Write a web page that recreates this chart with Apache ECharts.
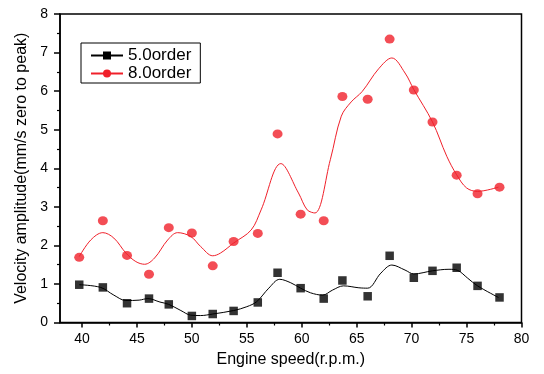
<!DOCTYPE html>
<html>
<head>
<meta charset="utf-8">
<script src="https://cdn.jsdelivr.net/npm/echarts@6/dist/echarts.min.js"></script>
<style>html,body{margin:0;padding:0;background:#fff}#c{width:544px;height:374px}</style>
</head>
<body>
<div id="c"></div>
<script>
// Measured points
const speed = [39.75, 41.9, 44.1, 46.1, 47.9, 50.0, 51.9, 53.8, 56.0, 57.8, 59.9, 62.0, 63.7, 66.0, 68.0, 70.2, 71.9, 74.1, 76.0, 78.0];
const order5 = [0.98, 0.91, 0.50, 0.62, 0.47, 0.17, 0.22, 0.30, 0.52, 1.29, 0.89, 0.62, 1.09, 0.68, 1.73, 1.16, 1.34, 1.42, 0.95, 0.65];
const order8 = [1.69, 2.64, 1.74, 1.25, 2.46, 2.32, 1.47, 2.10, 2.31, 4.89, 2.81, 2.64, 5.86, 5.79, 7.35, 6.03, 5.20, 3.82, 3.34, 3.51];

// Smoothed curves
const fit5X = [39.75, 41.7, 42.9, 44.0, 45.2, 46.0, 47.1, 47.9, 49.0, 49.9, 50.8, 51.9, 53.8, 55.0, 55.9, 57.0, 58.0, 59.0, 59.9, 60.8, 61.9, 62.8, 63.8, 65.2, 66.0, 67.2, 68.2, 69.4, 70.2, 71.9, 73.4, 74.2, 75.1, 76.0, 77.9];
const fit5Y = [0.98, 0.91, 0.71, 0.57, 0.58, 0.62, 0.53, 0.47, 0.31, 0.19, 0.18, 0.22, 0.31, 0.41, 0.54, 0.89, 1.12, 1.03, 0.89, 0.77, 0.71, 0.84, 0.95, 0.90, 0.89, 1.28, 1.49, 1.36, 1.26, 1.34, 1.38, 1.35, 1.15, 0.95, 0.65];
const fit8X = [39.75, 40.8, 41.9, 42.9, 44.0, 44.9, 45.7, 46.6, 47.8, 48.7, 49.9, 50.8, 51.9, 52.6, 53.8, 55.4, 56.3, 58.1, 59.7, 60.5, 61.2, 62.6, 63.6, 64.5, 65.5, 67.0, 68.2, 69.4, 70.2, 71.9, 73.2, 74.1, 75.0, 76.0, 77.9];
const fit8Y = [1.71, 2.14, 2.33, 2.19, 1.80, 1.58, 1.51, 1.67, 2.14, 2.33, 2.23, 1.97, 1.73, 1.80, 2.06, 2.40, 2.92, 4.12, 3.36, 2.92, 2.84, 4.22, 5.35, 5.72, 5.99, 6.58, 6.86, 6.47, 6.04, 5.20, 4.31, 3.83, 3.49, 3.40, 3.51];

const majorTicksX = [40, 45, 50, 55, 60, 65, 70, 75, 80];
const minorTicksX = [42.5, 47.5, 52.5, 57.5, 62.5, 67.5, 72.5, 77.5];

const zip = (xs, ys) => xs.map((x, i) => [x, ys[i]]);
const RED = '#f0202a';
const FONT = 'Liberation Sans, Arial, sans-serif';

const chart = echarts.init(document.getElementById('c'), null, {renderer: 'canvas'});
chart.setOption({
  animation: false,
  backgroundColor: '#fff',
  grid: {left: 60, right: 22.5, top: 14, bottom: 51.5, show: true, borderColor: '#000', borderWidth: 1.5, backgroundColor: 'transparent'},
  legend: {
    orient: 'vertical', left: 81, top: 43,
    padding: [4, 9, 1, 9], itemGap: 1,
    itemWidth: 32, itemHeight: 10, itemTextGap: 10,
    borderColor: '#000', borderWidth: 1, borderRadius: 0,
    textStyle: {fontSize: 17, fontFamily: FONT, color: '#000'},
    data: ['5.0order', '8.0order']
  },
  xAxis: [{
    type: 'value', min: 38, max: 80,
    name: 'Engine speed(r.p.m.)', nameLocation: 'middle', nameGap: 26,
    nameTextStyle: {fontSize: 16, fontFamily: FONT, color: '#000'},
    axisLine: {lineStyle: {color: '#000', width: 1.5}},
    axisTick: {show: true, length: 5, lineStyle: {color: '#000', width: 1.5}, customValues: majorTicksX},
    axisLabel: {fontSize: 14, fontFamily: FONT, color: '#000', margin: 10, customValues: majorTicksX},
    splitLine: {show: false}
  }, {
    type: 'value', min: 38, max: 80, position: 'bottom',
    axisLine: {show: false},
    axisTick: {show: true, length: 3, lineStyle: {color: '#000', width: 1.2}, customValues: minorTicksX},
    axisLabel: {show: false},
    splitLine: {show: false}
  }],
  yAxis: {
    type: 'value', min: 0, max: 8, interval: 1,
    name: 'Velocity amplitude(mm/s zero to peak)', nameLocation: 'middle', nameGap: 29,
    nameTextStyle: {fontSize: 16, fontFamily: FONT, color: '#000'},
    axisLine: {show: true, lineStyle: {color: '#000', width: 1.5}},
    axisTick: {show: true, length: 6, lineStyle: {color: '#000', width: 1.5}},
    minorTick: {show: true, splitNumber: 2, length: 3, lineStyle: {color: '#000', width: 1.2}},
    axisLabel: {fontSize: 14, fontFamily: FONT, color: '#000', margin: 12},
    splitLine: {show: false}
  },
  series: [
    {name: '5.0order', type: 'line', data: zip(fit5X, fit5Y), smooth: 0.35, symbol: 'rect', symbolSize: 9, showSymbol: false,
     lineStyle: {color: '#000', width: 1}, itemStyle: {color: '#000'}, z: 2},
    {name: '8.0order', type: 'line', data: zip(fit8X, fit8Y), smooth: 0.35, symbol: 'circle', symbolSize: 10, showSymbol: false,
     lineStyle: {color: RED, width: 1}, itemStyle: {color: RED}, z: 2},
    {name: '5.0order', type: 'scatter', data: zip(speed, order5), symbol: 'rect', symbolSize: 8.5, itemStyle: {color: '#000'}, z: 3},
    {name: '8.0order', type: 'scatter', data: zip(speed, order8), symbol: 'circle', symbolSize: [10, 9], itemStyle: {color: RED}, z: 3}
  ]
});
</script>
</body>
</html>
